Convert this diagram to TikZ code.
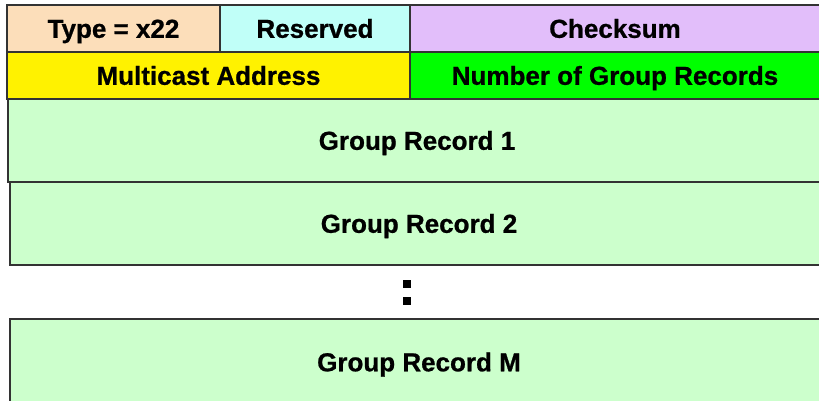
\documentclass[tikz,border=0pt]{standalone}
\usepackage{fontspec}
\setmainfont{Liberation Sans}[BoldFeatures={FakeBold=0.8}]
\begin{document}
\begin{tikzpicture}[x=1pt,y=-1pt,
  field/.style={draw=black!80,line width=1.3pt,inner sep=0pt,text height=18.6pt,text depth=0pt,font=\fontsize{26}{30}\selectfont\bfseries},
  dotbox/.style={fill=black,draw=none,minimum size=8pt,inner sep=0pt}]
\useasboundingbox (0,0) rectangle (819,400);
\definecolor{ctype}{RGB}{252,222,186}
\definecolor{cres}{RGB}{192,255,248}
\definecolor{cchk}{RGB}{226,190,250}
\definecolor{cgrp}{RGB}{204,255,204}
% group records (behind)
\node[field,fill=cgrp,minimum width=818pt,minimum height=83pt] (gr1) at (417,140.5) {Group Record 1};
\node[field,fill=cgrp,minimum width=818pt,minimum height=83pt] (gr2) at (419,223.5) {Group Record 2};
\node[field,fill=cgrp,minimum width=818pt,minimum height=100pt] (grm) at (419,369) {};
\node[field,draw=none] (grmt) at (419,362) {Group Record M};
% header rows
\node[field,fill=ctype,minimum width=213pt,minimum height=47pt] (type) at (113.5,28.5) {Type = x22};
\node[field,fill=cres,minimum width=190pt,minimum height=47pt] (res) at (315,28.5) {Reserved};
\node[field,fill=cchk,minimum width=410pt,minimum height=47pt] (chk) at (615,28.5) {Checksum};
\node[field,fill=yellow,minimum width=403pt,minimum height=47pt] (mca) at (208.5,75.5) {Multicast Address};
\node[field,fill=green,minimum width=410pt,minimum height=47pt] (ngr) at (615,75.5) {Number of Group Records};
% continuation dots
\node[dotbox] (d1) at (407,284) {};
\node[dotbox] (d2) at (407,300.5) {};
\end{tikzpicture}
\end{document}
